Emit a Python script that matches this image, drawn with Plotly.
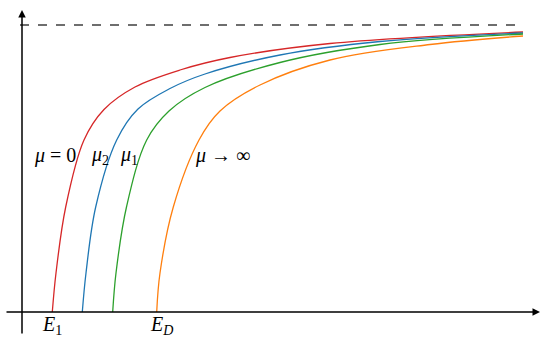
import plotly.graph_objects as go

# curve points (x = energy, y = height above the axis)
red_x = [52.3, 56, 65.7, 84, 104, 135, 180, 230, 330, 523]
red_y = [0, 39, 105, 172, 202.5, 225, 242, 254.5, 268.5, 280]

blue_x = [82.3, 86, 95.7, 116.7, 138, 170, 205, 280, 380, 523]
blue_y = [0, 39, 105, 172, 203, 223.5, 238, 257, 270.5, 279]

green_x = [112.7, 116, 126.7, 146.7, 169, 205, 280, 380, 523]
green_y = [0, 39, 106, 172, 201, 224.5, 249.5, 267.5, 278]

orange_x = [156.7, 160, 173.3, 199, 220, 260, 330, 430, 523]
orange_y = [0, 39, 105, 172, 201, 227, 252, 267.5, 276]

limit_y = 287
limit_x = [20, 523]

curve_labels = ["<i>μ</i> = 0", "<i>μ</i><sub>2</sub>", "<i>μ</i><sub>1</sub>", "<i>μ</i> → ∞"]
label_x = [55, 100, 129, 222]
label_y = 157
tick_labels = ["<i>E</i><sub>1</sub>", "<i>E</i><sub><i>D</i></sub>"]
tick_x = [52, 161]

fig = go.Figure()

curves = [
    (red_x, red_y, "#d62728"),
    (blue_x, blue_y, "#1f77b4"),
    (green_x, green_y, "#2ca02c"),
    (orange_x, orange_y, "#ff7f0e"),
]
for xs, ys, col in curves:
    fig.add_trace(go.Scatter(
        x=xs, y=ys, mode="lines",
        line=dict(color=col, width=1.3, shape="spline", smoothing=1.0),
        showlegend=False, hoverinfo="skip",
    ))

# asymptote
fig.add_trace(go.Scatter(
    x=limit_x, y=[limit_y, limit_y], mode="lines",
    line=dict(color="#6e6e6e", width=2, dash="dash"),
    showlegend=False, hoverinfo="skip",
))

# axes with arrows
fig.add_annotation(x=540, y=0, ax=5, ay=0, xref="x", yref="y", axref="x", ayref="y",
                   text="", showarrow=True, arrowhead=2, arrowsize=1, arrowwidth=1.5,
                   arrowcolor="black")
fig.add_annotation(x=22, y=302, ax=22, ay=-23, xref="x", yref="y", axref="x", ayref="y",
                   text="", showarrow=True, arrowhead=2, arrowsize=1, arrowwidth=1.5,
                   arrowcolor="black")

font = dict(family="Liberation Serif, DejaVu Serif, serif", size=20, color="black")
for txt, lx in zip(curve_labels, label_x):
    fig.add_annotation(x=lx, y=label_y, text=txt, showarrow=False, font=font)
for txt, tx in zip(tick_labels, tick_x):
    fig.add_annotation(x=tx, y=-13, text=txt, showarrow=False, font=font)

fig.update_layout(
    width=550, height=345,
    margin=dict(l=0, r=0, t=0, b=0),
    plot_bgcolor="white", paper_bgcolor="white",
    xaxis=dict(range=[0, 550], visible=False),
    yaxis=dict(range=[-33, 312], visible=False),
)

fig.write_html("out.html", config={"displayModeBar": False},
               post_script="document.body.style.margin='0';")
